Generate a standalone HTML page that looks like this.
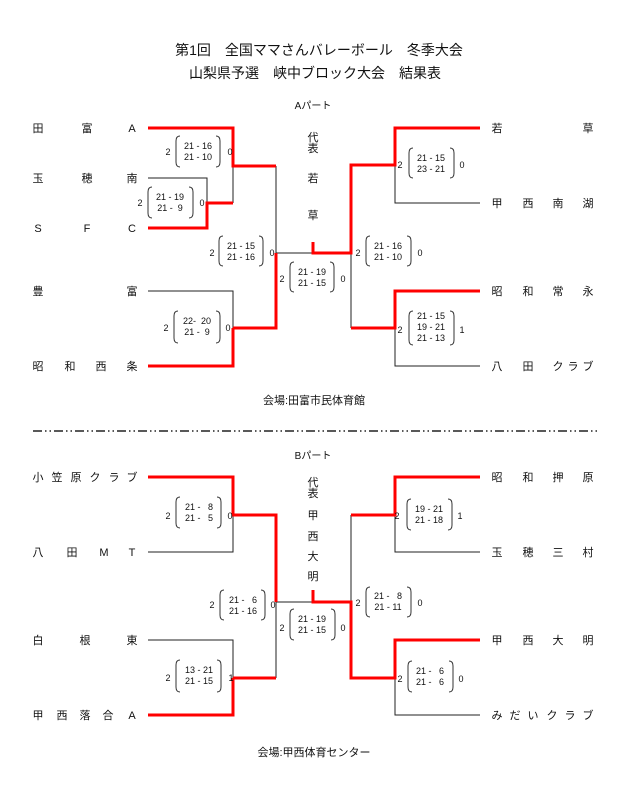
<!DOCTYPE html>
<html><head><meta charset="utf-8"><style>
html,body{margin:0;padding:0;background:#fff}
svg{display:block}
text{font-family:"Liberation Sans","Noto Sans CJK JP",sans-serif;fill:#111}
.n{font-size:11px;text-anchor:middle}
.s{font-size:9px;text-anchor:middle}
.r{stroke:#f00;stroke-width:3;fill:none}
.k{stroke:#222;stroke-width:1;fill:none}
.p{stroke:#333;stroke-width:1;fill:none}
</style></head><body>
<svg width="625" height="800" viewBox="0 0 625 800" xmlns="http://www.w3.org/2000/svg">
<text x="319" y="55" style="font-size:14px;text-anchor:middle">第1回　全国ママさんバレーボール　冬季大会</text>
<text x="315" y="78" style="font-size:14px;text-anchor:middle">山梨県予選　峡中ブロック大会　結果表</text>

<!-- Part A -->
<text x="313" y="109" style="font-size:10px;text-anchor:middle">Aパート</text>
<text class="n" x="313" y="141">代</text><text class="n" x="313" y="152">表</text>
<text class="n" x="313" y="182">若</text><text class="n" x="313" y="219">草</text>

<g class="n">
<text x="38" y="132">田</text><text x="87" y="132">富</text><text x="132" y="132">A</text>
<text x="38" y="182">玉</text><text x="87" y="182">穂</text><text x="132" y="182">南</text>
<text x="38" y="232">S</text><text x="87" y="232">F</text><text x="132" y="232">C</text>
<text x="38" y="295">豊</text><text x="132" y="295">富</text>
<text x="38" y="370">昭</text><text x="70" y="370">和</text><text x="101" y="370">西</text><text x="132" y="370">条</text>
<text x="497" y="132">若</text><text x="588" y="132">草</text>
<text x="497" y="207">甲</text><text x="528" y="207">西</text><text x="558" y="207">南</text><text x="588" y="207">湖</text>
<text x="497" y="295">昭</text><text x="528" y="295">和</text><text x="558" y="295">常</text><text x="588" y="295">永</text>
<text x="497" y="370">八</text><text x="528" y="370">田</text><text x="558" y="370">ク</text><text x="573" y="370">ラ</text><text x="588" y="370">ブ</text>
</g>

<path class="k" d="M148 178H207V203 M233 166V203 M276 166V253H313 M148 291H233V328 M351 253V328 M395 165V203H480 M395 328V366H480"/>
<path class="r" d="M148 128H233V166H276 M148 228H207V203H233 M276 253V328H233 M148 366H233V328 M313 242V253H351V165H395V128H480 M351 328H395V291H480"/>

<!-- Part B -->
<text x="313" y="459" style="font-size:10px;text-anchor:middle">Bパート</text>
<text class="n" x="313" y="486">代</text><text class="n" x="313" y="497">表</text>
<text class="n" x="313" y="519">甲</text><text class="n" x="313" y="540">西</text><text class="n" x="313" y="560">大</text><text class="n" x="313" y="580">明</text>

<g class="n">
<text x="38" y="481">小</text><text x="57" y="481">笠</text><text x="76" y="481">原</text><text x="95" y="481">ク</text><text x="114" y="481">ラ</text><text x="132" y="481">ブ</text>
<text x="38" y="556">八</text><text x="72" y="556">田</text><text x="104" y="556">M</text><text x="132" y="556">T</text>
<text x="38" y="644">白</text><text x="85" y="644">根</text><text x="132" y="644">東</text>
<text x="38" y="719">甲</text><text x="62" y="719">西</text><text x="85" y="719">落</text><text x="108" y="719">合</text><text x="132" y="719">A</text>
<text x="497" y="481">昭</text><text x="528" y="481">和</text><text x="558" y="481">押</text><text x="588" y="481">原</text>
<text x="497" y="556">玉</text><text x="528" y="556">穂</text><text x="558" y="556">三</text><text x="588" y="556">村</text>
<text x="497" y="644">甲</text><text x="528" y="644">西</text><text x="558" y="644">大</text><text x="588" y="644">明</text>
<text x="497" y="719">み</text><text x="515" y="719">だ</text><text x="533" y="719">い</text><text x="552" y="719">ク</text><text x="570" y="719">ラ</text><text x="588" y="719">ブ</text>
</g>

<path class="k" d="M148 552H233V515 M276 602V678 M276 602H313 M148 640H233V678 M351 515V602 M395 515V552H480 M395 678V715H480"/>
<path class="r" d="M148 477H233V515H276V602 M276 678H233 M148 715H233V678 M313 590V602H351V678H395V640H480 M351 515H395V477H480"/>

<!-- score boxes -->
<g>
<path class="p" d="M180 136Q176 136 176 141V162Q176 167 180 167 M216 136Q220 136 220 141V162Q220 167 216 167"/>
<text class="s" x="168" y="155">2</text><text class="s" x="198" y="149">21 - 16</text><text class="s" x="198" y="160">21 - 10</text><text class="s" x="230" y="155">0</text>

<path class="p" d="M152 187Q148 187 148 192V213Q148 218 152 218 M189 187Q193 187 193 192V213Q193 218 189 218"/>
<text class="s" x="140" y="206">2</text><text class="s" x="170" y="200">21 - 19</text><text class="s" x="170" y="211">21 -&#160;&#160;9</text><text class="s" x="202" y="206">0</text>

<path class="p" d="M223 236Q219 236 219 241V261Q219 266 223 266 M259 236Q263 236 263 241V261Q263 266 259 266"/>
<text class="s" x="212" y="256">2</text><text class="s" x="241" y="249">21 - 15</text><text class="s" x="241" y="260">21 - 16</text><text class="s" x="272" y="256">0</text>

<path class="p" d="M178 311Q174 311 174 316V338Q174 343 178 343 M216 311Q220 311 220 316V338Q220 343 216 343"/>
<text class="s" x="166" y="331">2</text><text class="s" x="197" y="324">22-&#160;&#160;20</text><text class="s" x="197" y="335">21 -&#160;&#160;9</text><text class="s" x="228" y="331">0</text>

<path class="p" d="M294 262Q290 262 290 267V287Q290 292 294 292 M330 262Q334 262 334 267V287Q334 292 330 292"/>
<text class="s" x="282" y="282">2</text><text class="s" x="312" y="275">21 - 19</text><text class="s" x="312" y="286">21 - 15</text><text class="s" x="343" y="282">0</text>

<path class="p" d="M413 148Q409 148 409 153V173Q409 178 413 178 M450 148Q454 148 454 153V173Q454 178 450 178"/>
<text class="s" x="400" y="168">2</text><text class="s" x="431" y="161">21 - 15</text><text class="s" x="431" y="172">23 - 21</text><text class="s" x="462" y="168">0</text>

<path class="p" d="M370 236Q366 236 366 241V261Q366 266 370 266 M407 236Q411 236 411 241V261Q411 266 407 266"/>
<text class="s" x="358" y="256">2</text><text class="s" x="388" y="249">21 - 16</text><text class="s" x="388" y="260">21 - 10</text><text class="s" x="420" y="256">0</text>

<path class="p" d="M413 311Q409 311 409 316V340Q409 345 413 345 M450 311Q454 311 454 316V340Q454 345 450 345"/>
<text class="s" x="400" y="333">2</text><text class="s" x="431" y="319">21 - 15</text><text class="s" x="431" y="330">19 - 21</text><text class="s" x="431" y="341">21 - 13</text><text class="s" x="462" y="333">1</text>

<path class="p" d="M180 497Q176 497 176 502V523Q176 528 180 528 M217 497Q221 497 221 502V523Q221 528 217 528"/>
<text class="s" x="168" y="519">2</text><text class="s" x="199" y="510">21 -&#160;&#160;&#160;8</text><text class="s" x="199" y="521">21 -&#160;&#160;&#160;5</text><text class="s" x="230" y="519">0</text>

<path class="p" d="M224 590Q220 590 220 595V615Q220 620 224 620 M261 590Q265 590 265 595V615Q265 620 261 620"/>
<text class="s" x="212" y="608">2</text><text class="s" x="243" y="603">21 -&#160;&#160;&#160;6</text><text class="s" x="243" y="614">21 - 16</text><text class="s" x="273" y="608">0</text>

<path class="p" d="M180 660Q176 660 176 665V687Q176 692 180 692 M217 660Q221 660 221 665V687Q221 692 217 692"/>
<text class="s" x="168" y="681">2</text><text class="s" x="199" y="673">13 - 21</text><text class="s" x="199" y="684">21 - 15</text><text class="s" x="231" y="681">1</text>

<path class="p" d="M294 609Q290 609 290 614V635Q290 640 294 640 M331 609Q335 609 335 614V635Q335 640 331 640"/>
<text class="s" x="282" y="631">2</text><text class="s" x="312" y="622">21 - 19</text><text class="s" x="312" y="633">21 - 15</text><text class="s" x="343" y="631">0</text>

<path class="p" d="M411 499Q407 499 407 504V525Q407 530 411 530 M448 499Q452 499 452 504V525Q452 530 448 530"/>
<text class="s" x="397" y="519">2</text><text class="s" x="429" y="512">19 - 21</text><text class="s" x="429" y="523">21 - 18</text><text class="s" x="460" y="519">1</text>

<path class="p" d="M370 587Q366 587 366 592V612Q366 617 370 617 M407 587Q411 587 411 592V612Q411 617 407 617"/>
<text class="s" x="358" y="606">2</text><text class="s" x="388" y="599">21 -&#160;&#160;&#160;8</text><text class="s" x="388" y="610">21 - 11</text><text class="s" x="420" y="606">0</text>

<path class="p" d="M412 661Q408 661 408 666V687Q408 692 412 692 M449 661Q453 661 453 666V687Q453 692 449 692"/>
<text class="s" x="400" y="682">2</text><text class="s" x="430" y="674">21 -&#160;&#160;&#160;6</text><text class="s" x="430" y="685">21 -&#160;&#160;&#160;6</text><text class="s" x="461" y="682">0</text>
</g>

<text x="314" y="404" style="font-size:11px;text-anchor:middle">会場:田富市民体育館</text>
<line x1="33" y1="431" x2="597" y2="431" stroke="#222" stroke-width="1.5" stroke-dasharray="9 3 1.5 3 1.5 3"/>
<text x="314" y="756" style="font-size:11px;text-anchor:middle">会場:甲西体育センター</text>
</svg>
</body></html>
